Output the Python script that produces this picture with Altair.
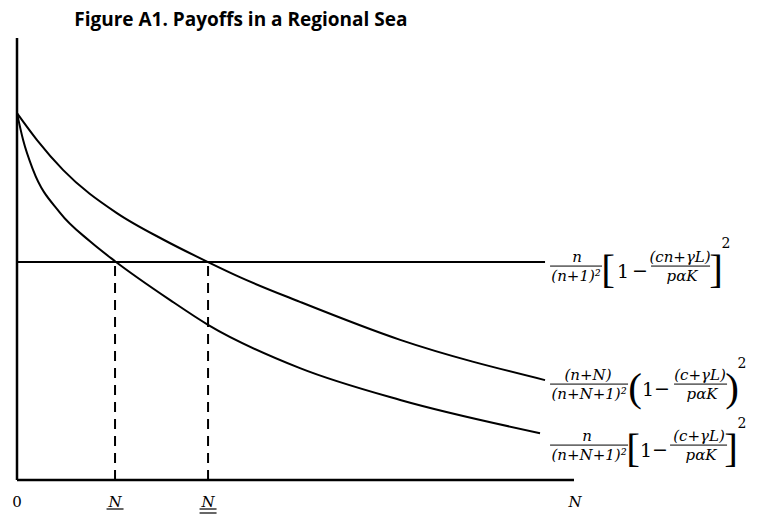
import altair as alt
import pandas as pd

# ---------------- data (chart units: x = number of members, y = payoff) ----------------
upper_x = [0, 3.6, 8.3, 17.8, 26.4, 34.3, 40.0, 50.8, 68.8, 94.8]
upper_y = [83.0, 76.9, 70.1, 60.5, 54.3, 49.3, 45.9, 40.3, 31.7, 22.6]
lower_x = [0, 1.1, 2.9, 7.7, 13.1, 17.6, 27.5, 34.3, 50.8, 68.8, 93.9]
lower_y = [83.0, 76.9, 70.1, 60.5, 54.0, 49.5, 40.7, 35.1, 25.3, 18.1, 10.6]
flat_x = [0, 94.8]
flat_y = [49.3, 49.3]
cross_x = [17.6, 34.3]
cross_top = 49.3
tick_text = ["0", "N", "N", "N"]
tick_x = [0, 17.6, 34.3, 100.2]
tick_lines = [0, 1, 2, 0]
title_text = "Figure A1. Payoffs in a Regional Sea"

formula_x = 95.7
formula_y = [48.4, 21.7, 7.9]
num1 = ["n", "(n+N)", "n"]
den1 = ["(n+1)²", "(n+N+1)²", "(n+N+1)²"]
num2 = ["(cn+γL)", "(c+γL)", "(c+γL)"]
den2 = ["pαK", "pαK", "pαK"]
open_b = ["[", "(", "["]
close_b = ["]", ")", "]"]

# ---------------- layout (pixel offsets inside each formula) ----------------
W, H = 557, 442
XMAX, YMAX = 100.0, 100.0
SX, SY = W / XMAX, H / YMAX

num1_dx = [27, 38, 37]
bar1 = [(0, 52), (0, 78), (0, 78)]
bar2 = [(101, 160), (124, 177), (120, 177)]
num2_dx = [130, 150, 149]
den2_dx = [132, 152, 151]
open_dx = [58, 85, 83]
one_dx = [73, 98, 96]
minus_dx = [90, 112, 110]
close_dx = [166, 182, 181]
sq_dx = [176, 192, 192]
sq_dy = [-22, -20, -21]

XS = alt.Scale(domain=[0, XMAX], nice=False, zero=False)
YS = alt.Scale(domain=[0, YMAX], nice=False, zero=False)


def X(f="x"):
    return alt.X(f"{f}:Q", scale=XS, axis=None)


def Y(f="y"):
    return alt.Y(f"{f}:Q", scale=YS, axis=None)


def pos(i, dx, dy):
    return formula_x + dx / SX, formula_y[i] - dy / SY


# ---------------- curves ----------------
curves = pd.concat([
    pd.DataFrame({"x": upper_x, "y": upper_y, "s": "upper"}),
    pd.DataFrame({"x": lower_x, "y": lower_y, "s": "lower"}),
    pd.DataFrame({"x": flat_x, "y": flat_y, "s": "flat"}),
])
curve_layer = alt.Chart(curves).mark_line(
    interpolate="monotone", color="black", strokeWidth=2
).encode(x=X(), y=Y(), detail="s:N")

dash_df = pd.DataFrame({"x": cross_x, "y": [0] * len(cross_x), "y2": [cross_top] * len(cross_x)})
dash_layer = alt.Chart(dash_df).mark_rule(
    color="black", strokeWidth=2, strokeDash=[10, 7]
).encode(x=X(), y=Y(), y2="y2:Q")

axes_df = pd.DataFrame({"x": [0, 0], "x2": [0, XMAX], "y": [0, 0], "y2": [YMAX, 0]})
axes_layer = alt.Chart(axes_df).mark_rule(color="black", strokeWidth=2.5).encode(
    x=X(), x2="x2:Q", y=Y(), y2="y2:Q"
)

# ---------------- bottom labels ----------------
lab_y = -22 / SY
lab_df = pd.DataFrame({"x": tick_x, "y": [lab_y] * 4, "t": tick_text,
                       "it": [False, True, True, True]})
zero_layer = alt.Chart(lab_df[~lab_df.it]).mark_text(
    font="DejaVu Serif", fontSize=15, baseline="middle", align="center", color="black"
).encode(x=X(), y=Y(), text="t:N")
n_layer = alt.Chart(lab_df[lab_df.it]).mark_text(
    font="DejaVu Serif", fontStyle="italic", fontSize=15, baseline="middle", align="center", color="black"
).encode(x=X(), y=Y(), text="t:N")

ul_rows = []
for xv, k in zip(tick_x, tick_lines):
    for j in range(k):
        ul_rows.append({"x": xv - 8.5 / SX, "x2": xv + 8.5 / SX, "y": -(29 + 4 * j) / SY})
ul_layer = alt.Chart(pd.DataFrame(ul_rows)).mark_rule(color="black", strokeWidth=1.2).encode(
    x=X(), x2="x2:Q", y=Y()
)

# ---------------- formulas ----------------
it_rows, up_rows, bar_rows = [], [], []
for i in range(3):
    for t, dx, dy, b in [(num1[i], num1_dx[i], -4, "alphabetic"),
                         (den1[i], sum(bar1[i]) / 2, 3, "top"),
                         (num2[i], num2_dx[i], -4, "alphabetic"),
                         (den2[i], den2_dx[i], 3, "top")]:
        x, y = pos(i, dx, dy)
        it_rows.append({"x": x, "y": y, "t": t, "b": b})
    for t, dx, dy, sz in [(open_b[i], open_dx[i], 5, 41),
                          ("1", one_dx[i], 6, 19),
                          ("−", minus_dx[i], 5, 19),
                          (close_b[i], close_dx[i], 5, 41),
                          ("2", sq_dx[i], sq_dy[i], 14)]:
        x, y = pos(i, dx, dy)
        up_rows.append({"x": x, "y": y, "t": t, "sz": sz,
                        "br": t in "[]()"})
    for a, c in (bar1[i], bar2[i]):
        x, y = pos(i, a, 0)
        x2, _ = pos(i, c, 0)
        bar_rows.append({"x": x, "x2": x2, "y": y})

it_df = pd.DataFrame(it_rows)
it_layers = [
    alt.Chart(it_df[it_df.b == b]).mark_text(
        font="DejaVu Serif", fontStyle="italic", fontSize=15, baseline=b, align="center", color="black"
    ).encode(x=X(), y=Y(), text="t:N")
    for b in ["alphabetic", "top"]
]
up_df = pd.DataFrame(up_rows)
br_layer = alt.Chart(up_df[up_df.br]).mark_text(
    font="Liberation Serif", baseline="middle", align="center", color="black"
).encode(x=X(), y=Y(), text="t:N", size=alt.Size("sz:Q", scale=None, legend=None))
sym_layer = alt.Chart(up_df[~up_df.br]).mark_text(
    font="DejaVu Serif", baseline="middle", align="center", color="black"
).encode(x=X(), y=Y(), text="t:N", size=alt.Size("sz:Q", scale=None, legend=None))
bar_layer = alt.Chart(pd.DataFrame(bar_rows)).mark_rule(color="black", strokeWidth=1).encode(
    x=X(), x2="x2:Q", y=Y()
)

chart = alt.layer(
    curve_layer, dash_layer, axes_layer, zero_layer, n_layer, ul_layer,
    *it_layers, br_layer, sym_layer, bar_layer
).properties(
    width=W, height=H,
    autosize="none",
    padding={"left": 9, "top": 30, "right": 175, "bottom": 35},
    title=alt.TitleParams(title_text, anchor="start", dx=62, font="Open Sans",
                          fontSize=19, fontWeight="bold", offset=7, color="black"),
).configure_view(stroke=None)

chart.save("out.html", embed_options={"renderer": "svg", "actions": False})
